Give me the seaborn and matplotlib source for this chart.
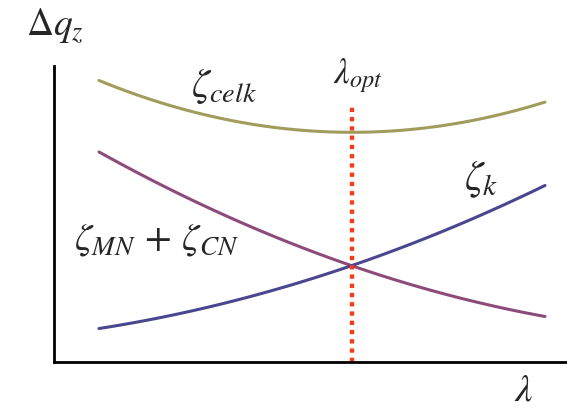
import matplotlib
matplotlib.use("Agg")
import matplotlib.pyplot as plt
import seaborn as sns

# lambda positions (arbitrary units) and curve values
lam = [0.90, 1.72, 2.72, 3.72, 4.72, 5.96, 6.92, 7.92, 8.92, 9.82]
zeta_celk = [5.63, 5.32, 5.02, 4.80, 4.66, 4.59, 4.63, 4.75, 4.95, 5.20]
zeta_mn_cn = [4.20, 3.76, 3.26, 2.80, 2.38, 1.92, 1.62, 1.33, 1.09, 0.91]
zeta_k = [0.67, 0.81, 1.01, 1.26, 1.53, 1.93, 2.28, 2.67, 3.11, 3.53]
lam_opt_x = [5.96, 5.96]
opt_line_y = [0.0, 5.18]

colors = {"celk": "#a09c5c", "mn_cn": "#8d4b7b", "k": "#4a468f", "opt": "#ff3a12"}

sns.set_style("white")
plt.rcParams["mathtext.fontset"] = "stix"
plt.rcParams["font.family"] = ["STIXGeneral", "DejaVu Serif"]

fig = plt.figure(figsize=(5.67, 4.10), dpi=100)
ax = fig.add_axes([54 / 567, 47 / 410, 513 / 567, 296 / 410])

for yv, key in [(zeta_celk, "celk"), (zeta_mn_cn, "mn_cn"), (zeta_k, "k")]:
    sns.regplot(x=lam, y=yv, order=2, ci=None, scatter=False, truncate=True,
                color=colors[key], line_kws={"linewidth": 2.2}, ax=ax)

sns.lineplot(x=lam_opt_x, y=opt_line_y, estimator=None, sort=False,
             color=colors["opt"], linewidth=3.1, linestyle=(0, (1, 1.15)), ax=ax)

ax.set_xlim(0, 10.26)
ax.set_ylim(0, 5.92)
ax.set_xticks([])
ax.set_yticks([])
ax.set_xlabel("")
ax.set_ylabel("")
for s in ["top", "right"]:
    ax.spines[s].set_visible(False)
for s in ["left", "bottom"]:
    ax.spines[s].set_color("black")
    ax.spines[s].set_linewidth(2.0)

ax.text(-0.56, 6.56, r"$\Delta q_z$", fontsize=27, ha="left", va="baseline")
ax.text(5.58, 5.60, r"$\lambda_{opt}$", fontsize=25, ha="left", va="baseline")
ax.text(2.74, 5.32, r"$\zeta_{celk}$", fontsize=29, ha="left", va="baseline")
ax.text(8.20, 3.46, r"$\zeta_{k}$", fontsize=30, ha="left", va="baseline")
ax.text(0.40, 2.26, r"$\zeta_{MN}\,+\,\zeta_{CN}$", fontsize=28, ha="left", va="baseline")
ax.text(9.20, -0.76, r"$\lambda$", fontsize=28, ha="left", va="baseline")

fig.savefig("out.png", dpi=100)
